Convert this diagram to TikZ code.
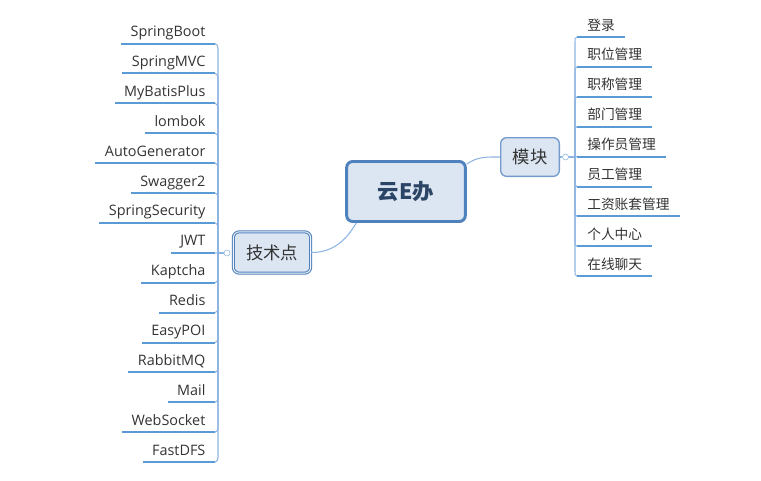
\documentclass[tikz,border=0pt]{standalone}
\usepackage{fontspec}
\setmainfont{Open Sans}
\newfontfamily\cjk{Noto Sans CJK SC}
\usetikzlibrary{calc}
\definecolor{lineblue}{HTML}{5B9BD5}
\definecolor{spineblue}{HTML}{8DB4E2}
\definecolor{boxfill}{HTML}{DCE6F2}
\definecolor{boxdraw}{HTML}{4F81BD}
\definecolor{txtgray}{HTML}{333333}
\definecolor{titleblue}{HTML}{2B4566}
\newcommand{\gap}{29.9}
\newcommand{\leftX}{218}
\newcommand{\rightX}{575}

\tikzset{
  leaf/.style={text=txtgray, inner xsep=7pt, inner ysep=2.5pt,
    text height=0.75em, text depth=0.25em},
  underline/.style={draw=lineblue, line width=1.5pt},
  branch/.style={draw=spineblue, line width=0.8pt},
  topic/.style={rounded corners=4.5pt, fill=boxfill, text=txtgray}
}

\begin{document}
\begin{tikzpicture}[x=0.75pt,y=-0.75pt]
        \useasboundingbox (0,0) rectangle (761,480);

        % Central topic and the two main topics
        \node[topic, draw=boxdraw, line width=2.2pt, minimum width=89pt, minimum height=45pt,
              text=titleblue, font=\cjk\bfseries\fontsize{16}{18}\selectfont] (yun) at (406,191.5) {云E办};
        \node[topic, draw=boxdraw, line width=0.8pt, double=boxfill!40!white, double distance=0.7pt,
              minimum width=58pt, minimum height=31pt, font=\cjk\fontsize{13}{15}\selectfont] (jsd) at (272,252.5) {技术点};
        \node[topic, draw=boxdraw!80!white, line width=1pt, minimum width=44pt, minimum height=29pt,
              font=\cjk\fontsize{13}{15}\selectfont] (mk) at (530,157) {模块};

        % Collapse dots
        \node[circle, draw=spineblue, fill=white, inner sep=0pt, minimum size=4.5pt] (jsdot) at (227,253) {};
        \node[circle, draw=spineblue, fill=white, inner sep=0pt, minimum size=4.5pt] (mkdot) at (565.5,157) {};

        % Links from the central topic
        \draw[branch] ($(yun.south west)+(11,0)$) to[out=240,in=0] (jsd.east);
        \draw[branch] ($(yun.north east)+(0,4)$) to[out=35,in=180] (mk.west);
        \draw[branch] (mk.east) -- (mkdot.west);

        % Left subtopics
        \foreach \name [count=\i from 0] in {SpringBoot,SpringMVC,MyBatisPlus,lombok,AutoGenerator,
            Swagger2,SpringSecurity,JWT,Kaptcha,Redis,EasyPOI,RabbitMQ,Mail,WebSocket,FastDFS} {
            \node[leaf, anchor=south east, font=\fontsize{10.8}{12}\selectfont] (L\i) at (215,43.5+\i*\gap) {\name};
            \draw[underline] (L\i.south west) -- (L\i.south east);
            \pgfmathsetmacro\sy{ifthenelse(\i<7,5,-5)}
            \pgfmathsetmacro\ia{ifthenelse(\i<7,90,270)}
            \ifnum\i=7
                \draw[branch] (L\i.south east) -- (jsdot.west);
            \else
                \draw[branch] (L\i.south east) to[out=0,in=\ia] ++(3,\sy) -- (\leftX,253) -- (jsdot.west);
            \fi
        }

        % Right subtopics
        \foreach \name [count=\i from 0] in {登录,职位管理,职称管理,部门管理,操作员管理,
            员工管理,工资账套管理,个人中心,在线聊天} {
            \node[leaf, anchor=south west, inner xsep=7.5pt, font=\cjk\fontsize{10.3}{12}\selectfont] (R\i) at (577,37+\i*\gap) {\name};
            \draw[underline] (R\i.south west) -- (R\i.south east);
            \pgfmathsetmacro\sy{ifthenelse(\i<4,5,-5)}
            \pgfmathsetmacro\ia{ifthenelse(\i<4,90,270)}
            \ifnum\i=4
                \draw[branch] (R\i.south west) -- (mkdot.east);
            \else
                \draw[branch] (R\i.south west) to[out=180,in=\ia] ++(-2,\sy) -- (\rightX,157) -- (mkdot.east);
            \fi
        }
    \end{tikzpicture}
\end{document}
